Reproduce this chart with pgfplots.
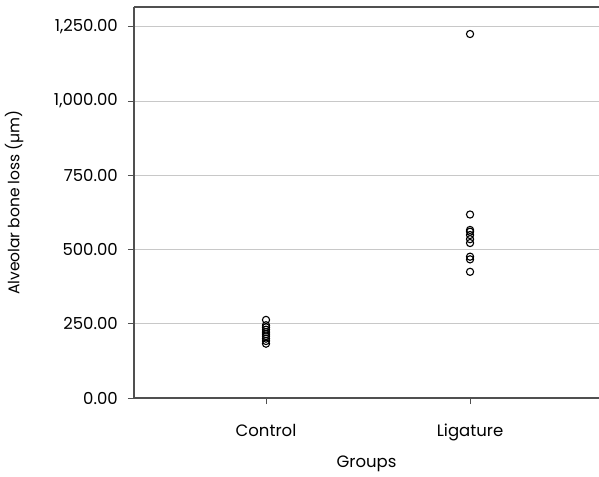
\documentclass[border=0pt]{standalone}
\usepackage{pgfplots}
\pgfplotsset{compat=1.18}
\usepackage{fontspec}
\setmainfont{Poppins}
\definecolor{axisgray}{HTML}{505050}
\definecolor{gridgray}{HTML}{C8C8C8}

\begin{document}
\begin{tikzpicture}
\begin{axis}[
  scale only axis,
  width=465pt, height=391pt,
  xmin=0.353, xmax=2.632,
  ymin=0, ymax=1317,
  xtick={1,2},
  xticklabels={Control,Ligature},
  ytick={0,250,500,750,1000,1250},
  yticklabel={\pgfmathprintnumber[fixed,fixed zerofill,precision=2,1000 sep={,}]{\tick}},
  /pgf/number format/assume math mode=true,
  tick align=outside,
  major tick length=6pt,
  tick style={axisgray, line width=0.9pt},
  xtick pos=bottom, ytick pos=left,
  ymajorgrids,
  major grid style={gridgray, line width=1pt},
  axis line style={draw=none},
  font=\fontsize{16.5}{19}\selectfont,
  yticklabel style={inner sep=0pt, xshift=-10pt},
  xticklabel style={inner sep=0pt, yshift=-20pt},
  xlabel={Groups},
  ylabel={Alveolar bone loss (\textmu m)},
  xlabel style={at={(axis description cs:0.5,0)}, anchor=center, yshift=-66pt, inner sep=0pt},
  ylabel style={at={(axis description cs:-0.258,0.5)}, anchor=center, inner sep=0pt,
                font=\fontsize{15.5}{18}\selectfont},
  clip=false,
]
\addplot[only marks, mark=o, mark size=3.6pt, mark options={black, line width=1.1pt}]
  coordinates {
  (1,263) (1,245) (1,238) (1,230) (1,222) (1,215) (1,208) (1,200) (1,192) (1,183)
  (2,1226) (2,618) (2,566) (2,560) (2,549) (2,535) (2,522) (2,476) (2,467) (2,425)
  };
\draw[axisgray, line width=1.3pt] (rel axis cs:0,1) -- (rel axis cs:0,0) -- (rel axis cs:1,0);
\draw[axisgray, line width=1.3pt] (rel axis cs:0,1) -- (rel axis cs:1,1);
\end{axis}
\pgfresetboundingbox
\path (-134pt,-78pt) rectangle (465pt,398pt);
\end{tikzpicture}
\end{document}
